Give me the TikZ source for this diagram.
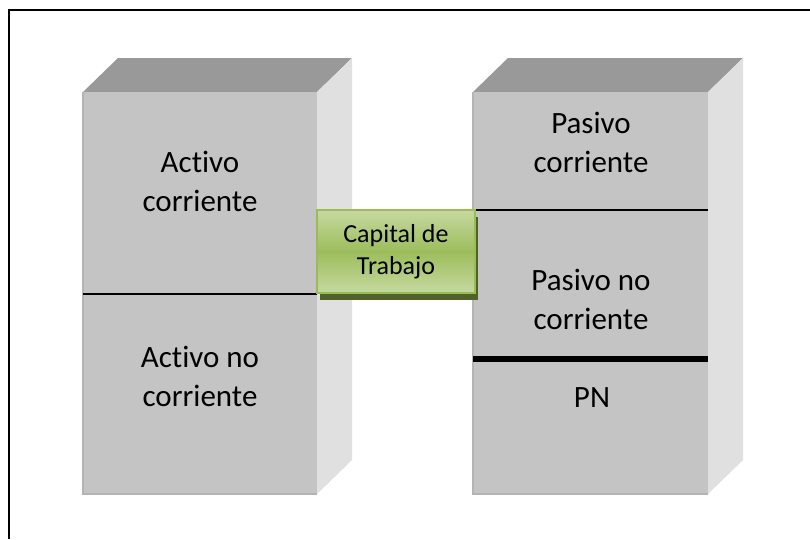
\documentclass[tikz,border=0pt]{standalone}
\usepackage{fontspec}
\setmainfont{Carlito}[RawFeature={-liga}]
\definecolor{frontface}{HTML}{C4C4C4}
\definecolor{topface}{HTML}{999999}
\definecolor{sideface}{HTML}{E0E0E0}
\definecolor{edgegray}{HTML}{B4B4B4}
\definecolor{glight}{HTML}{C6D9A0}
\definecolor{gmid}{HTML}{9DBD5C}
\definecolor{gborder}{HTML}{9BBB59}
\definecolor{gshadow}{HTML}{4F6228}
\begin{document}
\begin{tikzpicture}[x=1pt,y=-1pt,
  blocktext/.style={font=\fontsize{31}{39}\selectfont, align=center, anchor=base, inner sep=0pt},
  capbox/.style={draw=gborder, line width=1.5pt, top color=glight, bottom color=glight, middle color=gmid,
    minimum width=158pt, minimum height=83pt, inner sep=0pt, align=center,
    font=\fontsize{26}{32}\selectfont},
  thinrule/.style={line width=1.2pt},
  thickrule/.style={line width=5.5pt}]
\useasboundingbox (0,0) rectangle (810,539);
\fill[white] (0,0) rectangle (810,539);
\draw[line width=2pt] (9,539) -- (9,10) -- (810,10);

% left block
\fill[topface] (83,92) -- (317,92) -- (352,58) -- (118,58) -- cycle;
\fill[sideface] (317,92) -- (352,58) -- (352,460) -- (317,494) -- cycle;
\fill[frontface] (83,92) rectangle (317,494);
\draw[edgegray, line width=1.5pt] (83,92) -- (83,494) -- (317,494);

% right block
\fill[topface] (473,92) -- (708,92) -- (743,58) -- (508,58) -- cycle;
\fill[sideface] (708,92) -- (743,58) -- (743,460) -- (708,494) -- cycle;
\fill[frontface] (473,92) rectangle (708,494);
\draw[edgegray, line width=1.5pt] (473,92) -- (473,494) -- (708,494);

% dividers
\coordinate (l1) at (83,294);
\coordinate (l2) at (317,294);
\coordinate (r1) at (473,210);
\coordinate (r2) at (708,210);
\coordinate (r3) at (473,359);
\coordinate (r4) at (708,359);
\draw[thinrule] (l1) -- (l2);
\draw[thinrule] (r1) -- (r2);
\draw[thickrule] (r3) -- (r4);

% texts (base anchor = last line baseline)
\node[blocktext] (ac) at (200,211) {Activo\\corriente};
\node[blocktext] (anc) at (200,406) {Activo no\\corriente};
\node[blocktext] (pc) at (591,172) {Pasivo\\corriente};
\node[blocktext] (pnc) at (591,329) {Pasivo no\\corriente};
\node[blocktext] (pn) at (592,407) {PN};

% capital de trabajo
\fill[gshadow] (320,217) rectangle (478,300);
\node[capbox] (cap) at (396,251.5) {Capital de\\Trabajo};
\end{tikzpicture}
\end{document}
